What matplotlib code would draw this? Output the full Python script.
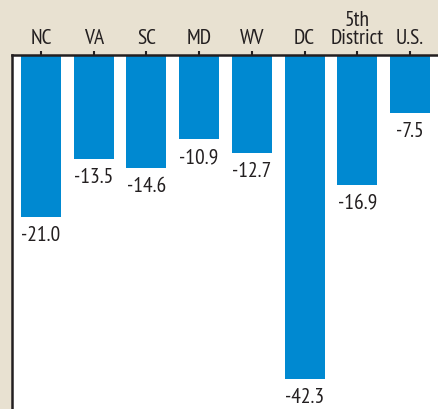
import numpy as np
import matplotlib.pyplot as plt

plt.rcParams['font.family'] = ['PT Sans Narrow', 'Open Sans Condensed', 'DejaVu Sans']

labels = ["NC", "VA", "SC", "MD", "WV", "DC", "5th\nDistrict", "U.S."]
values = [-21.0, -13.5, -14.6, -10.9, -12.7, -42.3, -16.9, -7.5]

bg = "#e8e1d1"
blue = "#0089d1"
dark = "#231f20"

fig = plt.figure(figsize=(4.38, 4.09), dpi=100, facecolor=bg)
ax = fig.add_axes([12 / 438, 0, 426 / 438, 354 / 409])
ax.set_facecolor("white")

x = np.arange(len(labels))
ax.bar(x, values, width=0.76, color=blue, align="center")

# value labels under each bar
for xi, v in zip(x, values):
    ax.annotate("%.1f" % v, (xi, v), xytext=(0, -6.5), textcoords="offset points",
                ha="center", va="top", fontsize=15.5, color=dark)

ax.set_xlim(-0.55, 7.53)
ax.set_ylim(-46.2, 0.15)
ax.xaxis.tick_top()
ax.set_xticks(x)
ax.set_xticklabels(labels, fontsize=15.5, color=dark, linespacing=0.95)
ax.tick_params(axis="x", length=3, width=1.5, color=dark, pad=2)
ax.set_yticks([])
for s in ["bottom", "right"]:
    ax.spines[s].set_visible(False)
for s in ["top", "left"]:
    ax.spines[s].set_linewidth(1.8)
    ax.spines[s].set_color(dark)

fig.savefig("out.png", dpi=100, facecolor=bg)
